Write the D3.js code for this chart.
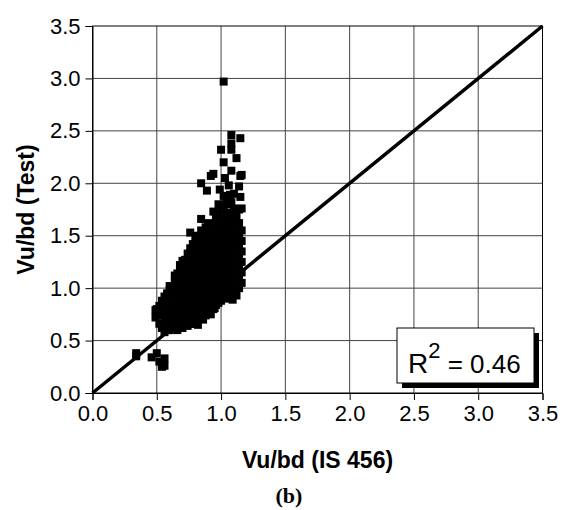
<!DOCTYPE html>
<html>
<head>
<meta charset="utf-8">
<script src="https://cdn.jsdelivr.net/npm/d3@7"></script>
<style>
  body { margin: 0; background: #fff; }
  svg text { font-family: "Liberation Sans", Arial, sans-serif; }
</style>
</head>
<body>
<svg id="chart" width="565" height="510"></svg>
<script>
// Axis ticks (shared by both axes)
const tickValues = [0, 0.5, 1.0, 1.5, 2.0, 2.5, 3.0, 3.5];

// Predicted shear stress (IS 456), grouped by column; each entry is [x, [y...]]
const columns = [
  [0.34, [0.35, 0.38]],
  [0.46, [0.34]],
  [0.49, [0.72, 0.79]],
  [0.50, [0.38, 0.74, 0.80]],
  [0.52, [0.30, 0.83, 0.76, 0.66]],
  [0.54, [0.25, 0.28, 0.88, 0.62, 0.74]],
  [0.56, [0.26, 0.33, 0.92, 0.70, 0.58, 0.80]],
  [0.58, [0.87, 0.95, 0.65, 0.78, 0.60]],
  [0.60, [0.60, 0.72, 0.83, 0.98, 1.02, 0.66]],
  [0.62, [0.62, 0.66, 0.76, 0.88, 0.95, 1.00]],
  [0.64, [0.62, 0.70, 0.81, 0.90, 1.05, 1.12, 0.96]],
  [0.66, [0.60, 0.66, 0.75, 0.86, 0.97, 1.08, 1.14]],
  [0.68, [0.64, 0.72, 0.80, 0.92, 1.02, 1.15, 1.22, 0.86]],
  [0.70, [0.62, 0.68, 0.77, 0.86, 0.96, 1.06, 1.12, 1.18, 1.26]],
  [0.72, [0.66, 0.74, 0.83, 0.90, 1.00, 1.10, 1.20, 1.27]],
  [0.74, [0.64, 0.70, 0.79, 0.88, 0.95, 1.04, 1.14, 1.24, 1.33]],
  [0.76, [0.68, 0.75, 0.84, 0.92, 1.00, 1.08, 1.18, 1.29, 1.38, 1.53]],
  [0.78, [0.66, 0.72, 0.80, 0.89, 0.97, 1.05, 1.13, 1.22, 1.32, 1.42]],
  [0.80, [0.66, 0.75, 0.84, 0.93, 1.02, 1.10, 1.18, 1.27, 1.36, 1.46]],
  [0.82, [0.65, 0.72, 0.80, 0.88, 0.97, 1.06, 1.14, 1.23, 1.32, 1.41, 1.50]],
  [0.845, [0.74, 0.83, 0.92, 1.00, 1.09, 1.18, 1.27, 1.37, 1.46, 1.55, 1.66, 2.00]],
  [0.86, [0.70, 0.78, 0.87, 0.96, 1.04, 1.13, 1.22, 1.31, 1.40, 1.51, 1.52]],
  [0.88, [0.74, 0.82, 0.91, 1.00, 1.08, 1.17, 1.26, 1.35, 1.44, 1.58]],
  [0.89, [1.93]],
  [0.90, [0.78, 0.86, 0.95, 1.04, 1.12, 1.21, 1.30, 1.39, 1.48, 1.62]],
  [0.92, [0.75, 0.83, 0.92, 1.00, 1.09, 1.18, 1.27, 1.36, 1.45, 1.54, 2.07]],
  [0.94, [0.80, 0.88, 0.97, 1.05, 1.14, 1.23, 1.32, 1.41, 1.50, 1.60, 1.73, 2.09]],
  [0.95, [0.81]],
  [0.96, [0.84, 0.93, 1.02, 1.10, 1.19, 1.28, 1.37, 1.46, 1.55, 1.66]],
  [0.98, [0.86, 0.95, 1.04, 1.13, 1.22, 1.31, 1.40, 1.49, 1.58, 1.70, 1.80]],
  [0.99, [1.94]],
  [1.00, [0.88, 0.97, 1.06, 1.15, 1.24, 1.33, 1.42, 1.51, 1.62, 1.75, 2.32]],
  [1.02, [0.92, 1.01, 1.10, 1.19, 1.28, 1.37, 1.46, 1.56, 1.66, 1.78, 1.88, 2.20, 2.97]],
  [1.03, [2.05]],
  [1.04, [0.90, 0.99, 1.08, 1.17, 1.26, 1.35, 1.44, 1.53, 1.62, 1.72, 1.84]],
  [1.06, [0.94, 1.03, 1.12, 1.21, 1.30, 1.39, 1.48, 1.58, 1.68, 1.80, 1.98]],
  [1.07, [1.89]],
  [1.08, [0.96, 1.05, 1.14, 1.23, 1.32, 1.41, 1.50, 1.60, 1.70, 1.82, 2.12, 2.32, 2.46, 2.38]],
  [1.09, [0.89]],
  [1.10, [0.98, 1.07, 1.16, 1.25, 1.34, 1.43, 1.52, 1.64, 1.76, 1.90]],
  [1.12, [0.93, 1.02, 1.11, 1.20, 1.29, 1.38, 1.47, 1.57, 1.68, 2.24]],
  [1.14, [1.00, 1.10, 1.20, 1.30, 1.40, 1.50, 1.62, 1.75, 1.97]],
  [1.15, [2.43, 2.07, 1.87]],
  [1.16, [1.05, 1.15, 1.25, 1.35, 1.45, 1.55, 1.76, 2.08]]
];

const r2Value = "0.46";

const points = columns.flatMap(([x, ys]) => ys.map(y => ({ x, y })));

const svg = d3.select("#chart");
const plotLeft = 92.5, plotRight = 542.5, plotTop = 26, plotBottom = 393;

const x = d3.scaleLinear().domain([0, 3.5]).range([plotLeft, plotRight]);
const y = d3.scaleLinear().domain([0, 3.5]).range([plotBottom, plotTop]);

// Grid lines
const grid = svg.append("g");
grid.selectAll("line.gx").data(tickValues.slice(1, -1)).enter().append("line")
  .attr("class", "gx")
  .attr("x1", d => x(d)).attr("x2", d => x(d))
  .attr("y1", plotTop).attr("y2", plotBottom)
  .attr("stroke", "#444").attr("stroke-width", 1);
grid.selectAll("line.gy").data(tickValues.slice(1, -1)).enter().append("line")
  .attr("class", "gy")
  .attr("y1", d => y(d)).attr("y2", d => y(d))
  .attr("x1", plotLeft).attr("x2", plotRight)
  .attr("stroke", "#444").attr("stroke-width", 1);

// Frame
svg.append("rect")
  .attr("x", plotLeft).attr("y", plotTop)
  .attr("width", plotRight - plotLeft).attr("height", plotBottom - plotTop)
  .attr("fill", "none").attr("stroke", "#000").attr("stroke-width", 1);

// Axes
const xAxis = svg.append("g").attr("transform", `translate(0,${plotBottom})`)
  .call(d3.axisBottom(x).tickValues(tickValues).tickFormat(d3.format(".1f")).tickSizeOuter(0).tickSize(7).tickPadding(5));
const yAxis = svg.append("g").attr("transform", `translate(${plotLeft},0)`)
  .call(d3.axisLeft(y).tickValues(tickValues).tickFormat(d3.format(".1f")).tickSizeOuter(0).tickSize(7).tickPadding(5));
[xAxis, yAxis].forEach(a => {
  a.select(".domain").attr("stroke", "#000");
  a.selectAll(".tick line").attr("stroke", "#000");
  a.selectAll(".tick text").attr("fill", "#000")
    .style("font-family", "'Liberation Sans', Arial, sans-serif").style("font-size", "22px");
});

// Points
svg.append("g").selectAll("rect").data(points).enter().append("rect")
  .attr("x", d => x(d.x) - 4).attr("y", d => y(d.y) - 4)
  .attr("width", 8).attr("height", 8)
  .attr("fill", "#000");

// 1:1 line
svg.append("line")
  .attr("x1", x(0)).attr("y1", y(0)).attr("x2", x(3.5)).attr("y2", y(3.5))
  .attr("stroke", "#000").attr("stroke-width", 3.5);

// R² box with drop shadow
const bx = 397, by = 328, bw = 137, bh = 55;
svg.append("rect").attr("x", bx + 5).attr("y", by + 5).attr("width", bw).attr("height", bh).attr("fill", "#000");
svg.append("rect").attr("x", bx).attr("y", by).attr("width", bw).attr("height", bh)
  .attr("fill", "#fff").attr("stroke", "#000").attr("stroke-width", 1);
const r2 = svg.append("text").attr("x", bx + 11).attr("y", 373).attr("fill", "#000");
r2.append("tspan").style("font-size", "28px").text("R");
r2.append("tspan").style("font-size", "22px").attr("dy", -15).text("2");
r2.append("tspan").style("font-size", "26px").attr("dy", 15).text(" = " + r2Value);

// Axis titles
svg.append("text").attr("x", (plotLeft + plotRight) / 2).attr("y", 468)
  .attr("text-anchor", "middle").style("font-weight", "bold").style("font-size", "23px")
  .text("Vu/bd (IS 456)");
svg.append("text")
  .attr("transform", `translate(34,${(plotTop + plotBottom) / 2}) rotate(-90)`)
  .attr("text-anchor", "middle").style("font-weight", "bold").style("font-size", "23px")
  .text("Vu/bd (Test)");

// Panel label
svg.append("text").attr("x", 289).attr("y", 503)
  .attr("text-anchor", "middle")
  .style("font-family", "'Liberation Serif', 'Times New Roman', serif")
  .style("font-weight", "bold").style("font-size", "22px")
  .text("(b)");
</script>
</body>
</html>
